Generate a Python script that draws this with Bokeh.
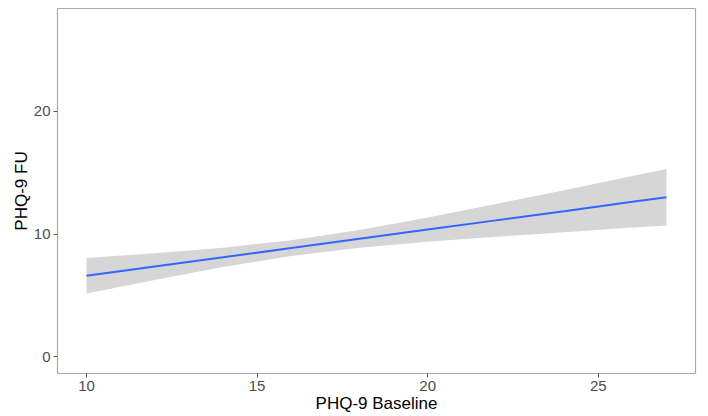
from bokeh.plotting import figure
from bokeh.models import FixedTicker, Range1d
from bokeh.embed import file_html
from bokeh.resources import INLINE

# Values
baseline = [10, 12, 14, 16, 18, 20, 22, 24, 26, 27]
fit = [6.60, 7.35, 8.10, 8.86, 9.61, 10.36, 11.11, 11.86, 12.62, 12.99]
lower = [5.15, 6.26, 7.31, 8.22, 8.89, 9.37, 9.77, 10.15, 10.52, 10.69]
upper = [8.05, 8.44, 8.89, 9.50, 10.33, 11.35, 12.45, 13.57, 14.72, 15.29]
x_ticks = [10, 15, 20, 25]
y_ticks = [0, 10, 20]
x_label = "PHQ-9 Baseline"
y_label = "PHQ-9 FU"

p = figure(width=706, height=416, output_backend="svg", toolbar_location=None,
           x_range=Range1d(9.15, 27.85), y_range=Range1d(-1.35, 28.35),
           min_border_left=57, min_border_right=11, min_border_top=8, min_border_bottom=43)

p.varea(x=baseline, y1=lower, y2=upper, fill_color="#d6d6d6")
p.line(x=baseline, y=fit, line_color="#3366FF", line_width=2)

p.xgrid.visible = False
p.ygrid.visible = False
p.background_fill_color = "white"
p.border_fill_color = "white"
p.outline_line_color = "#aaaaaa"
p.outline_line_width = 1.2

for ax in (p.xaxis[0], p.yaxis[0]):
    ax.axis_line_color = None
    ax.major_tick_line_color = "#555555"
    ax.major_tick_in = 0
    ax.major_tick_out = 4
    ax.minor_tick_line_color = None
    ax.major_label_text_font = "Liberation Sans"
    ax.major_label_text_font_size = "15px"
    ax.major_label_text_color = "#4d4d4d"
    ax.axis_label_text_font = "Liberation Sans"
    ax.axis_label_text_font_size = "17px"
    ax.axis_label_text_font_style = "normal"
    ax.axis_label_text_color = "black"

p.xaxis.ticker = FixedTicker(ticks=x_ticks)
p.yaxis.ticker = FixedTicker(ticks=y_ticks)
p.xaxis.axis_label = x_label
p.yaxis.axis_label = y_label
p.xaxis.axis_label_standoff = 0
p.yaxis.axis_label_standoff = 0
p.xaxis.major_label_standoff = 3
p.yaxis.major_label_standoff = 3

open("out.html", "w").write(file_html(p, INLINE))
